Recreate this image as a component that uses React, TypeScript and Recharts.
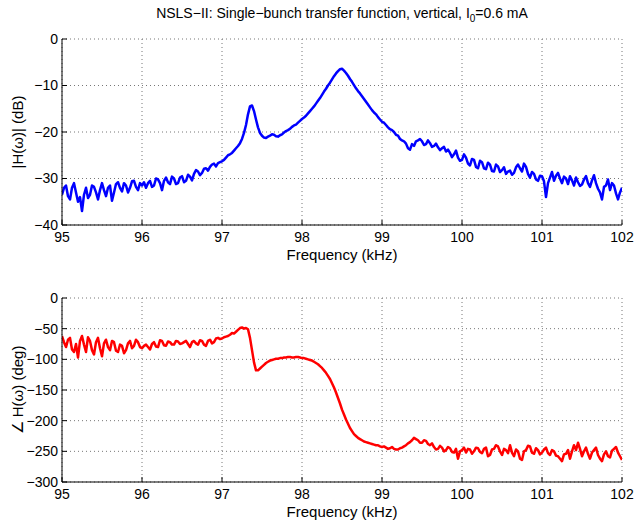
import React from 'react';
import { LineChart, Line, XAxis, YAxis, CartesianGrid } from 'recharts';

// sampling grid: 95.000 .. 102.000 kHz every 0.025 kHz (281 samples)
const freqKHz = Array.from({ length: 281 }, (_, i) => +(95 + i * 0.025).toFixed(3));

// |H(w)| in dB (one row = 0.5 kHz)
const magDb = [
  -33.5, -32.0, -31.5, -33.8, -34.5, -32.0, -31.0, -33.0, -35.0, -34.0, -37.0, -33.5, -32.0, -34.2, -33.5, -31.5, -31.8, -33.0, -34.5, -32.5,
  -31.0, -32.5, -33.8, -32.0, -31.5, -34.8, -33.0, -31.2, -30.8, -32.0, -32.8, -31.0, -31.5, -33.0, -32.0, -30.6, -30.5, -31.8, -32.5, -31.0,
  -31.5, -30.8, -32.0, -31.0, -30.5, -31.8, -31.5, -30.0, -30.2, -31.0, -32.5, -30.5, -29.8, -30.8, -31.2, -29.6, -30.0, -31.2, -31.0, -29.8,
  -29.5, -30.8, -30.5, -29.2, -29.6, -30.4, -29.0, -28.2, -28.5, -29.3, -28.8, -27.9, -27.8, -28.3, -27.5, -27.0, -26.8, -27.4, -26.7, -26.5,
  -26.3, -26.0, -25.5, -25.0, -24.8, -24.5, -24.0, -23.5, -23.0, -22.4, -21.5, -20.2, -18.5, -16.2, -14.5, -14.3, -15.5, -17.3, -19.0, -20.2,
  -20.8, -21.2, -21.3, -21.0, -20.8, -20.5, -20.6, -20.9, -21.0, -20.7, -20.5, -20.1, -19.8, -19.6, -19.3, -18.9, -18.6, -18.4, -18.0, -17.6,
  -17.2, -16.9, -16.5, -16.0, -15.5, -15.0, -14.5, -13.9, -13.3, -12.7, -12.0, -11.3, -10.7, -10.0, -9.4, -8.7, -8.0, -7.4, -6.9, -6.5,
  -6.4, -6.8, -7.3, -7.9, -8.6, -9.2, -9.9, -10.6, -11.2, -11.7, -12.3, -12.9, -13.5, -14.1, -14.7, -15.3, -15.8, -16.2, -16.8, -17.3,
  -17.8, -18.0, -18.5, -19.0, -19.4, -19.6, -20.0, -20.6, -20.8, -21.5, -21.8, -22.0, -22.5, -23.5, -23.8, -22.6, -23.0, -22.0, -21.8, -21.5,
  -22.0, -22.8, -22.6, -21.8, -22.4, -23.2, -23.0, -22.5, -23.3, -23.9, -23.5, -23.2, -24.2, -23.8, -24.5, -25.4, -24.8, -24.0, -25.5, -26.2,
  -26.0, -24.8, -25.5, -26.8, -27.2, -25.8, -26.0, -27.5, -27.8, -26.2, -26.5, -27.8, -28.0, -26.6, -27.0, -28.4, -28.5, -27.0, -27.4, -28.6,
  -28.2, -27.6, -29.0, -28.5, -28.3, -29.2, -28.8, -27.6, -27.0, -27.8, -28.5, -26.8, -27.5, -29.0, -29.8, -28.6, -29.0, -30.2, -30.5, -29.4,
  -29.5, -30.6, -34.0, -31.0, -29.8, -28.6, -30.5, -29.4, -28.8, -30.0, -31.0, -29.6, -30.0, -31.2, -29.5, -30.4, -31.5, -29.8, -30.8, -31.6,
  -31.3, -30.2, -29.5, -31.0, -31.8, -30.4, -29.3, -31.0, -32.2, -33.0, -34.5, -31.8, -31.5, -30.2, -32.5, -31.0, -31.5, -33.2, -34.5, -33.0,
  -32.0,
];

// phase of H(w) in degrees (one row = 0.5 kHz)
const phaseDeg = [
  -62, -72, -80, -68, -65, -84, -88, -75, -97, -70, -62, -76, -88, -64, -70, -85, -92, -72, -65, -82,
  -95, -74, -68, -80, -85, -70, -72, -86, -88, -76, -78, -90, -85, -74, -70, -82, -78, -68, -72, -80,
  -82, -78, -76, -80, -84, -75, -72, -79, -80, -69, -70, -77, -78, -71, -72, -76, -76, -70, -71, -75,
  -74, -72, -70, -75, -80, -72, -70, -74, -76, -69, -70, -76, -78, -70, -68, -74, -72, -66, -65, -67,
  -66, -64, -63, -62, -60, -57, -58, -55, -52, -49, -48, -50, -49, -51, -65, -85, -105, -118, -118, -115,
  -112, -109, -106, -104, -102, -101, -100, -99, -99, -98, -98, -97, -97, -96, -96, -97, -97, -96, -96, -97,
  -98, -98, -99, -100, -101, -102, -104, -106, -108, -111, -114, -118, -122, -127, -132, -139, -146, -154, -163, -172,
  -182, -190, -198, -205, -212, -217, -222, -225, -228, -230, -232, -234, -235, -236, -237, -238, -239, -240, -240, -242,
  -243, -242, -244, -246, -245, -243, -246, -247, -247, -245, -244, -242, -240, -237, -235, -232, -228, -230, -232, -236,
  -236, -232, -233, -238, -240, -237, -243, -247, -246, -241, -244, -250, -248, -243, -245, -251, -252, -246, -262, -250,
  -248, -244, -252, -246, -247, -254, -250, -244, -245, -251, -253, -246, -244, -258, -256, -247, -246, -240, -242, -250,
  -256, -246, -248, -253, -240, -252, -258, -247, -250, -262, -264, -250, -248, -241, -242, -252, -254, -245, -248, -255,
  -252, -247, -244, -253, -256, -248, -250, -257, -258, -262, -266, -255, -254, -248, -262, -250, -240, -248, -236, -246,
  -258, -250, -244, -254, -262, -252, -248, -244, -256, -262, -266, -255, -250, -258, -260, -249, -246, -243, -252, -258,
  -264,
];

const freqTicks = [95, 96, 97, 98, 99, 100, 101, 102];
const magTicks = [-40, -30, -20, -10, 0];
const phaseTicks = [-300, -250, -200, -150, -100, -50, 0];

const magData = freqKHz.map((f, i) => ({ f, v: magDb[i] }));
const phaseData = freqKHz.map((f, i) => ({ f, v: phaseDeg[i] }));

const FONT = '"Liberation Sans", Arial, Helvetica, sans-serif';
const fmt = (v: number) => String(v).replace('-', '\u2212');
const tickStyle = { fontSize: 14, fill: '#000', fontFamily: FONT };

const yLabel = (text: string) => (props: any) => {
  const vb = props.viewBox || {};
  const cx = 17;
  const cy = (vb.y ?? 0) + (vb.height ?? 0) / 2;
  return (
    <text x={cx} y={cy} transform={`rotate(-90 ${cx} ${cy})`} textAnchor="middle"
      dominantBaseline="central" fontSize={15} fontFamily={FONT} fill="#000">{text}</text>
  );
};

const xLabel = (props: any) => {
  const vb = props.viewBox || {};
  const cx = (vb.x ?? 0) + (vb.width ?? 0) / 2;
  return (
    <text x={cx} y={(vb.y ?? 0) + 35} textAnchor="middle" fontSize={15} fontFamily={FONT} fill="#000">
      Frequency (kHz)
    </text>
  );
};

type PanelProps = {
  data: { f: number; v: number }[];
  yTicks: number[];
  color: string;
  label: string;
  height: number;
  top: number;
  xHeight: number;
};

const Panel = ({ data, yTicks, color, label, height, top, xHeight }: PanelProps) => {
  const yDomain = [yTicks[0], yTicks[yTicks.length - 1]];
  return (
    <LineChart width={640} height={height} data={data} margin={{ top, right: 18, bottom: 0, left: 0 }}>
      <CartesianGrid stroke="#777" strokeDasharray="1 3" />
      <XAxis dataKey="f" type="number" domain={[95, 102]} ticks={freqTicks} allowDataOverflow
        height={xHeight} tickSize={-5} tickMargin={12} tick={tickStyle}
        axisLine={{ stroke: '#000' }} tickLine={{ stroke: '#000' }} label={xLabel} />
      <XAxis xAxisId="top" orientation="top" dataKey="f" type="number" domain={[95, 102]} ticks={freqTicks}
        height={0} tickSize={-5} tick={false} axisLine={{ stroke: '#000' }} tickLine={{ stroke: '#000' }} />
      <YAxis type="number" domain={yDomain} ticks={yTicks} allowDataOverflow width={62}
        tickSize={-5} tickMargin={9} tick={tickStyle} tickFormatter={fmt}
        axisLine={{ stroke: '#000' }} tickLine={{ stroke: '#000' }} label={yLabel(label)} />
      <YAxis yAxisId="right" orientation="right" type="number" domain={yDomain} ticks={yTicks} width={0}
        tickSize={-5} tick={false} axisLine={{ stroke: '#000' }} tickLine={{ stroke: '#000' }} />
      <Line type="linear" dataKey="v" stroke={color} strokeWidth={2.5} dot={false}
        isAnimationActive={false} strokeLinejoin="round" />
    </LineChart>
  );
};

export default function App() {
  return (
    <div style={{ position: 'absolute', left: 0, top: 0, width: 640, height: 521, background: '#fff', fontFamily: FONT }}>
      <div style={{ position: 'absolute', left: 62, width: 560, top: 5, textAlign: 'center', fontSize: 14, color: '#000' }}>
        NSLS{'\u2212'}II: Single{'\u2212'}bunch transfer function, vertical, I<sub style={{ fontSize: 10 }}>0</sub>=0.6 mA
      </div>
      <div style={{ position: 'absolute', left: 0, top: 0 }}>
        <Panel data={magData} yTicks={magTicks} color="#0000ff" label="|H(ω)| (dB)" height={265} top={39} xHeight={40} />
      </div>
      <div style={{ position: 'absolute', left: 0, top: 258 }}>
        <Panel data={phaseData} yTicks={phaseTicks} color="#ff0000" label="∠ H(ω) (deg)" height={263} top={40} xHeight={39} />
      </div>
    </div>
  );
}
